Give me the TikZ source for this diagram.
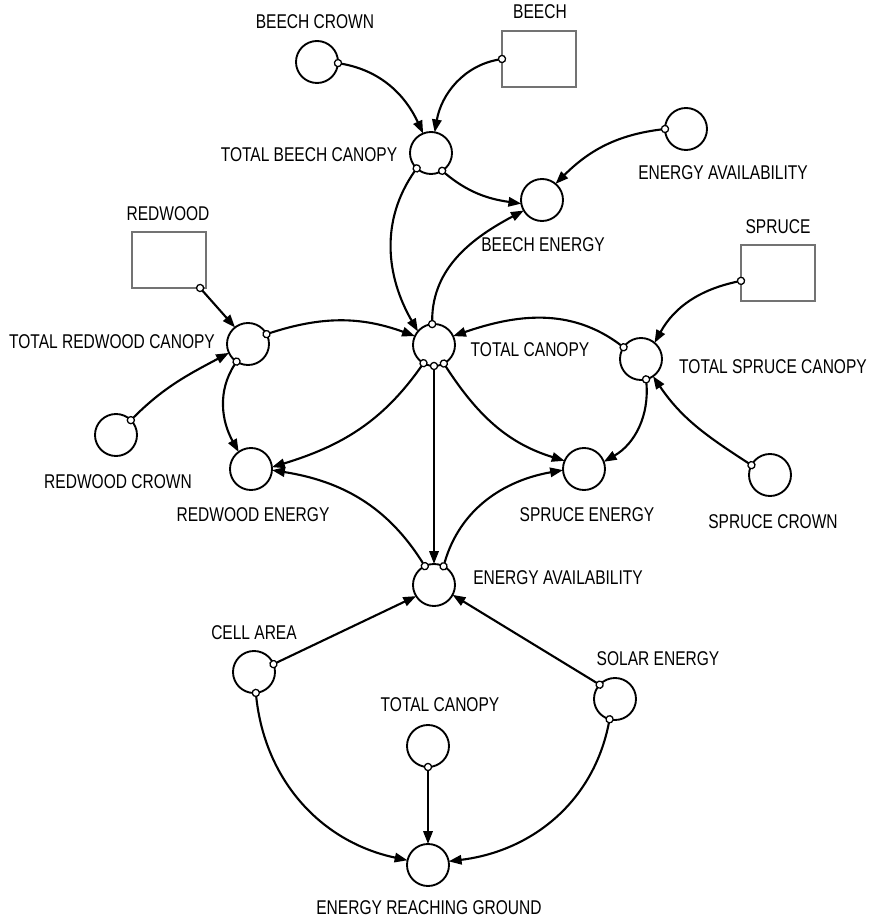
\documentclass[tikz,border=0pt]{standalone}
\usepackage{fontspec}
\setmainfont{Liberation Sans}[FakeStretch=0.78]
\usetikzlibrary{arrows.meta}

\begin{document}
\begin{tikzpicture}[x=0.03cm,y=0.03cm,
  aux/.style={circle, draw, line width=1.6pt, minimum size=1.26cm, inner sep=0pt, outer sep=0pt},
  level/.style={rectangle, draw=black!55, line width=1pt, minimum width=2.22cm, minimum height=1.68cm, inner sep=0pt, outer sep=0pt},
  lbl/.style={font=\fontsize{17}{19}\selectfont, inner sep=0pt},
  link/.style={line width=1.8pt, shorten <=-3.6pt,
    {Circle[length=7.2pt,width=7.2pt,fill=white,line width=1.1pt]}-{Triangle[length=11pt,width=8pt]}},
]
\useasboundingbox (0,0) rectangle (878,921);

% stocks
\node[level] (bx)  at (539,862) {};
\node[level] (rbx) at (169,661) {};
\node[level] (sbx) at (778,648) {};

% auxiliaries
\node[aux] (bc)  at (317,859) {};
\node[aux] (tbc) at (431,768) {};
\node[aux] (be)  at (542,721) {};
\node[aux] (eat) at (686,792) {};
\node[aux] (trc) at (248,577) {};
\node[aux] (rc)  at (116,486) {};
\node[aux] (re)  at (251,452) {};
\node[aux] (tc)  at (434,576) {};
\node[aux] (tsc) at (641,562) {};
\node[aux] (se)  at (584,452) {};
\node[aux] (sc)  at (770,446) {};
\node[aux] (eam) at (434,336) {};
\node[aux] (ca)  at (254,249) {};
\node[aux] (so)  at (615,222) {};
\node[aux] (tcb) at (428,175) {};
\node[aux] (erg) at (428,56) {};

% labels
\node[lbl] (l-bc)  at (315,899) {BEECH CROWN};
\node[lbl] (l-bx)  at (540,909) {BEECH};
\node[lbl] (l-tbc) at (309,766) {TOTAL BEECH CANOPY};
\node[lbl] (l-eat) at (723,748) {ENERGY AVAILABILITY};
\node[lbl] (l-be)  at (543,676) {BEECH ENERGY};
\node[lbl] (l-rbx) at (168,707) {REDWOOD};
\node[lbl] (l-sbx) at (778,694) {SPRUCE};
\node[lbl] (l-trc) at (112,579) {TOTAL REDWOOD CANOPY};
\node[lbl] (l-tc)  at (530,571) {TOTAL CANOPY};
\node[lbl] (l-tsc) at (773,554) {TOTAL SPRUCE CANOPY};
\node[lbl] (l-rc)  at (118,439) {REDWOOD CROWN};
\node[lbl] (l-re)  at (253,406) {REDWOOD ENERGY};
\node[lbl] (l-se)  at (587,406) {SPRUCE ENERGY};
\node[lbl] (l-sc)  at (773,399) {SPRUCE CROWN};
\node[lbl] (l-eam) at (558,343) {ENERGY AVAILABILITY};
\node[lbl] (l-ca)  at (254,288) {CELL AREA};
\node[lbl] (l-so)  at (658,262) {SOLAR ENERGY};
\node[lbl] (l-tcb) at (440,216) {TOTAL CANOPY};
\node[lbl] (l-erg) at (429,13) {ENERGY REACHING GROUND};

% beech sector
\draw[link] (bc.-3) to[out=-10,in=115] (tbc.112);
\draw[link] (bx.west) to[out=190,in=80] (tbc.80);
\draw[link] (tbc.-58) to[out=-40,in=172] (be.190);
\draw[link] (tbc.227) to[out=235,in=120] (tc.140);
\draw[link] (tc.95) to[out=90,in=208] (be.210);
\draw[link] (eat.180) to[out=187,in=45] (be.50);

% redwood sector
\draw[link] (rbx.-42) -- (trc.128);
\draw[link] (rc.45) to[out=45,in=208] (trc.205);
\draw[link] (trc.28) to[out=18,in=160] (tc.155);
\draw[link] (trc.237) to[out=237,in=119] (re.126);
\draw[link] (tc.240) to[out=235,in=17] (re.5);

% spruce sector
\draw[link] (tsc.146) to[out=143,in=19] (tc.25);
\draw[link] (sbx.192) to[out=192,in=61] (tsc.50);
\draw[link] (sc.152) to[out=147,in=-56] (tsc.-55);
\draw[link] (tsc.-76) to[out=-85,in=30] (se.20);
\draw[link] (tc.-62) to[out=-57,in=163] (se.157);

% energy availability
\draw[link] (tc.-90) -- (eam.90);
\draw[link] (eam.116) to[out=122,in=-9] (re.-3);
\draw[link] (eam.63) to[out=74,in=190] (se.183);
\draw[link] (ca.22) -- (eam.212);
\draw[link] (so.137) -- (eam.-28);

% energy reaching ground
\draw[link] (ca.-85) to[out=-84,in=168] (erg.167);
\draw[link] (tcb.-90) -- (erg.90);
\draw[link] (so.-105) to[out=-101,in=7] (erg.10);
\end{tikzpicture}
\end{document}
